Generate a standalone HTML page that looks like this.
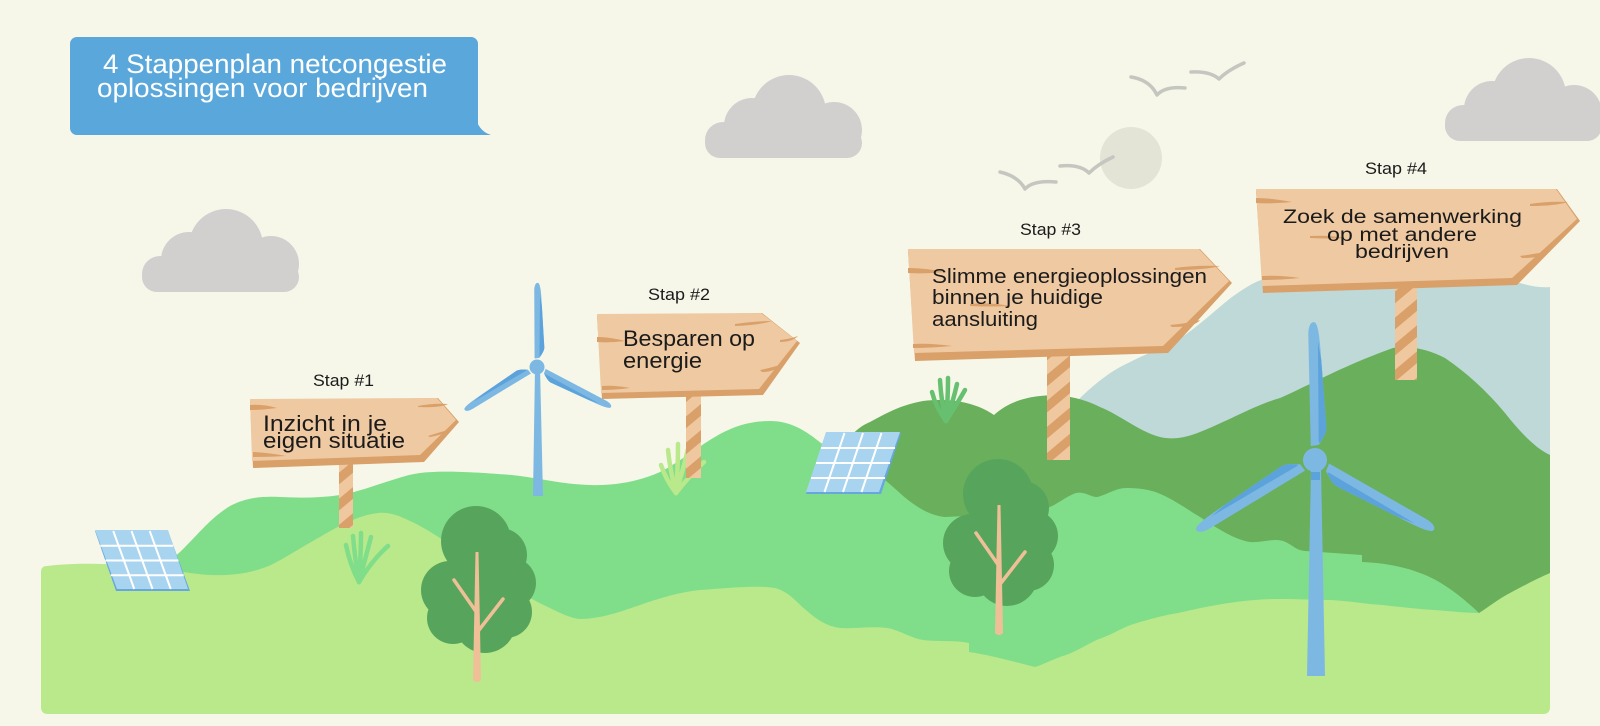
<!DOCTYPE html>
<html><head><meta charset="utf-8"><style>
html,body{margin:0;padding:0;background:#f6f7e9;}
svg{display:block;}
</style></head><body>
<svg width="1600" height="726" viewBox="0 0 1600 726" xmlns="http://www.w3.org/2000/svg">
<defs>
<pattern id="stripes" patternUnits="userSpaceOnUse" width="20" height="20" patternTransform="rotate(-40)">
<rect width="20" height="20" fill="#efc8a0"/>
<rect width="20" height="9" fill="#d9a069"/>
</pattern>
<g id="cloud">
<rect x="705" y="128" width="157" height="30" rx="15" fill="#d1d0cf"/>
<circle cx="723" cy="140" r="18" fill="#d1d0cf"/>
<circle cx="752" cy="126" r="28" fill="#d1d0cf"/>
<circle cx="789" cy="112" r="37" fill="#d1d0cf"/>
<circle cx="834" cy="130" r="28" fill="#d1d0cf"/>
</g>
<g id="blade">
<path d="M-4,-14 L-4.5,-125 C-4.5,-135 -1,-140 3,-137 C6,-132 7,-120 8,-100 L12,-32 C12,-28 9,-22 4,-15 Z" fill="#7db8e3"/>
<path d="M4,-18 L5,-118 L8,-100 L12,-32 C12,-28 9,-22 5,-17 Z" fill="#5ca3dc"/>
</g>
<g id="tree">
<circle cx="476" cy="541" r="35"/>
<circle cx="450" cy="590" r="29"/>
<circle cx="453" cy="618" r="26"/>
<circle cx="485" cy="622" r="31"/>
<circle cx="510" cy="583" r="26"/>
<circle cx="506" cy="612" r="26"/>
<circle cx="500" cy="555" r="27"/>
<circle cx="478" cy="590" r="30"/>
</g>
<g id="trunk">
<path d="M475.5,552 L478.5,552 L481,680 Q477,684 473,680 Z" fill="#efc097"/>
<path d="M454,580 L477,613" stroke="#efc097" stroke-width="3.5" stroke-linecap="round"/>
<path d="M503,599 L479,630" stroke="#efc097" stroke-width="3.5" stroke-linecap="round"/>
</g>
</defs>

<!-- background -->
<rect width="1600" height="726" fill="#f6f7e9"/>

<!-- title box -->
<rect x="70" y="37" width="408" height="98" rx="7" fill="#5aa7db"/>
<path d="M462,135 L491,135 Q481,132 477,122 Z" fill="#5aa7db"/>
<text x="103" y="73" font-family="Liberation Sans, sans-serif" font-size="27" fill="#ffffff" textLength="344" lengthAdjust="spacingAndGlyphs">4 Stappenplan netcongestie</text>
<text x="97" y="97" font-family="Liberation Sans, sans-serif" font-size="27" fill="#ffffff" textLength="331" lengthAdjust="spacingAndGlyphs">oplossingen voor bedrijven</text>

<!-- clouds -->
<use href="#cloud" transform="translate(-563,134)"/>
<use href="#cloud"/>
<use href="#cloud" transform="translate(740,-17)"/>

<!-- sun -->
<circle cx="1131" cy="158" r="31" fill="#e3e4d6"/>

<!-- birds -->
<g fill="none" stroke="#c6c6c1" stroke-width="3.5" stroke-linecap="round" stroke-linejoin="round">
<path d="M1131,77 Q1150,80 1157,95 Q1165,86 1185,88"/>
<path d="M1191,72 Q1210,71 1219,79 Q1228,70 1244,63"/>
<path d="M1000,172 Q1018,176 1025,189 Q1033,180 1056,182"/>
<path d="M1060,166 Q1080,164 1089,173 Q1098,164 1113,157"/>
</g>

<!-- blue mountain -->
<path d="M1076,402 C1090,388 1105,375 1122,366 C1140,357 1155,350 1170,345 C1195,330 1215,310 1232,297 C1245,288 1255,281 1265,279 L1520,283 C1530,286 1540,288 1550,287 L1550,470 L1076,470 Z" fill="#bed9d8"/>

<!-- dark green hill -->
<path d="M835,458 C845,442 855,428 870,422 C885,414 900,405 923,401 C950,398 975,402 994,415 C1005,405 1020,398 1040,396 C1060,394 1080,397 1100,407 C1120,415 1140,432 1160,437 C1172,440 1185,438 1200,432 C1230,420 1255,405 1280,398 C1310,385 1340,367 1393,348 C1410,345 1430,350 1445,358 C1470,375 1490,395 1505,413 C1520,432 1535,448 1550,455 L1550,650 L835,650 Z" fill="#6aaf5c"/>

<!-- mid green hill -->
<path d="M150,660 L150,590 C160,575 170,560 180,552 C195,538 210,518 230,506 C245,498 260,496 280,497 C300,498 320,498 340,495 C360,492 380,483 409,475 C430,470 460,471 512,475 C540,478 560,484 590,485 C615,486 640,481 660,472 C680,462 700,445 720,434 C735,426 750,421 770,421 C790,421 805,430 821,443 C840,455 860,465 875,473 C890,482 900,495 915,505 C925,512 935,516 945,517 L990,515 L1040,510 C1056,507 1062,498 1076,493 C1085,491 1090,497 1097,497 C1107,495 1115,488 1127,488 C1140,488 1150,490 1158,493 C1175,500 1188,510 1200,517 C1215,527 1235,540 1250,542 C1262,543 1272,538 1283,541 C1292,544 1295,550 1305,551 L1362,555 L1362,562 C1385,563 1405,567 1420,573 C1440,580 1460,595 1479,613 L1479,670 L150,670 Z" fill="#80de8a"/>

<!-- windmill 1 -->
<g>
<path d="M535,367 L540,367 L543,496 L533,496 Z" fill="#7db8e3"/>
<g transform="translate(537,367) scale(0.61)">
<use href="#blade"/>
<use href="#blade" transform="rotate(118)"/>
<use href="#blade" transform="rotate(-121)"/>
</g>
<circle cx="537" cy="367" r="7.5" fill="#7db8e3"/>
</g>

<!-- light green foreground -->
<path d="M41,572 Q41,566 47,566 C70,563 100,563 140,566 C170,569 190,574 210,575 C235,576 255,572 271,565 C285,558 300,548 320,537 C340,525 360,515 378,513 C388,512 398,515 410,521 C430,530 450,545 480,565 C505,582 525,597 550,608 C560,613 570,618 580,619 C600,619 620,612 640,605 C660,598 680,592 700,590 C730,588 755,585 775,588 C790,592 798,604 806,610 C815,618 825,626 840,628 C855,629 870,626 887,628 C900,630 910,638 923,640 C940,642 955,640 969,643 L969,652 C990,655 1015,662 1035,667 C1045,664 1055,658 1066,655 C1080,650 1090,642 1102,638 C1115,633 1125,626 1137,623 C1150,619 1165,615 1178,613 C1200,608 1215,605 1229,603 C1250,600 1265,599 1280,599 C1300,599 1315,600 1331,600 C1350,601 1365,604 1382,605 C1400,607 1418,609 1433,610 C1450,611 1465,613 1479,613 C1490,606 1500,598 1510,593 C1525,585 1538,578 1550,573 L1550,707 Q1550,714 1543,714 L48,714 Q41,714 41,707 Z" fill="#b9e98b"/>

<!-- grass tufts -->
<g fill="none" stroke="#80de8a" stroke-width="4.5" stroke-linecap="round">
<path d="M359,582 Q350,565 346,545"/><path d="M359,582 Q355,560 353,536"/><path d="M359,582 Q361,555 361,533"/><path d="M359,582 Q365,560 371,537"/><path d="M359,582 Q372,560 388,546"/>
</g>
<g fill="none" stroke="#b9e98b" stroke-width="4.5" stroke-linecap="round">
<path d="M676,493 Q666,480 661,465"/><path d="M676,493 Q670,470 668,450"/><path d="M676,493 Q678,468 678,444"/><path d="M676,493 Q683,470 688,449"/><path d="M676,493 Q690,475 704,462"/>
</g>
<g fill="none" stroke="#66c070" stroke-width="4.5" stroke-linecap="round">
<path d="M946,421 Q936,408 932,392"/><path d="M946,421 Q941,400 940,380"/><path d="M946,421 Q948,400 948,378"/><path d="M946,421 Q953,402 957,384"/><path d="M946,421 Q957,404 965,390"/>
</g>

<!-- trees -->
<g fill="#57a55c"><use href="#tree"/></g>
<use href="#trunk"/>
<g fill="#57a55c" transform="translate(522,-47)"><use href="#tree"/></g>
<use href="#trunk" transform="translate(522,-47)"/>

<!-- solar panel 1 -->
<polygon points="95,531 168,531 190,591 116,591" fill="#66a8de"/>
<polygon points="95,530 168,530 188,589 117,589" fill="#a8d4ef"/>
<g stroke="#ffffff" stroke-width="2">
<line x1="113.25" y1="531" x2="134.25" y2="589"/><line x1="131.5" y1="531" x2="152.5" y2="589"/><line x1="149.75" y1="531" x2="170.75" y2="589"/>
<line x1="100.25" y1="545.75" x2="173.25" y2="545.75"/><line x1="105.5" y1="560.5" x2="178.5" y2="560.5"/><line x1="110.75" y1="575.25" x2="183.75" y2="575.25"/>
</g>

<!-- solar panel 2 -->
<polygon points="826,433 901,433 881,494 806,494" fill="#66a8de"/>
<polygon points="826,432 900,432 879,492 806,492" fill="#a8d4ef"/>
<g stroke="#ffffff" stroke-width="2">
<line x1="844.5" y1="433" x2="824.5" y2="492"/><line x1="863" y1="433" x2="843" y2="492"/><line x1="881.5" y1="433" x2="861.5" y2="492"/>
<line x1="821" y1="448" x2="895" y2="448"/><line x1="816" y1="463" x2="890" y2="463"/><line x1="811" y1="478" x2="885" y2="478"/>
</g>

<!-- windmill 2 -->
<g>
<path d="M1311,468 L1321,468 L1325,676 L1307,676 Z" fill="#7db8e3"/>
<rect x="1311" y="472" width="9" height="8" fill="#5ca3dc"/>
<g transform="translate(1315,460)">
<use href="#blade" transform="rotate(-1)"/>
<use href="#blade" transform="rotate(120)"/>
<use href="#blade" transform="rotate(-121)"/>
</g>
<circle cx="1315" cy="460" r="12" fill="#7db8e3"/>
</g>

<!-- posts -->
<rect x="339" y="455" width="14" height="73" fill="url(#stripes)"/>
<rect x="686" y="390" width="15" height="88" fill="url(#stripes)"/>
<rect x="1047" y="350" width="23" height="110" fill="url(#stripes)"/>
<rect x="1395" y="283" width="22" height="97" fill="url(#stripes)"/>

<!-- sign boards -->
<g>
<polygon points="250,401 438,398 459,422 424,462 253,468" fill="#d9a069"/>
<polygon points="250,399 437,398 456,420 420,455 252,461" fill="#efc9a1"/>
<path d="M250,405 Q263,404 277,408 Q263,410 250,410 Z M253,452 Q270,453 286,456 Q270,457 253,457 Z M418,406 Q433,403 448,404 Q440,408 418,407 Z M428,436 Q440,432 452,429 Q446,434 430,437 Z" fill="#d9a069"/>
</g>
<g>
<polygon points="597,316 762,313 800,343 763,395 602,399" fill="#d9a069"/>
<polygon points="597,314 761,313 797,341 759,389 601,393" fill="#efc9a1"/>
<path d="M597,337 Q610,337 625,341 Q610,343 597,342 Z M602,386 Q615,385 630,388 Q615,390 602,390 Z M735,324 Q755,321 772,321 Q760,325 735,326 Z M780,340 Q790,339 798,336 Q792,342 780,342 Z M760,370 Q770,368 780,365 Q775,372 762,372 Z" fill="#d9a069"/>
</g>
<g>
<polygon points="908,251 1200,249 1232,283 1168,353 915,361" fill="#d9a069"/>
<polygon points="908,249 1199,249 1229,281 1163,346 914,353" fill="#efc9a1"/>
<path d="M908,268 Q925,268 945,272 Q925,274 908,273 Z M913,344 Q930,343 952,346 Q930,348 913,348 Z M1175,268 Q1195,265 1220,266 Q1205,270 1175,270 Z M1170,325 Q1190,323 1200,320 Q1195,327 1172,327 Z M970,304 Q990,302 1010,306 Q990,307 970,306 Z" fill="#d9a069"/>
</g>
<g>
<polygon points="1256,191 1557,189 1580,221 1517,285 1263,293" fill="#d9a069"/>
<polygon points="1256,189 1556,189 1577,219 1512,278 1262,286" fill="#efc9a1"/>
<path d="M1256,198 Q1272,198 1292,202 Q1272,204 1256,203 Z M1262,276 Q1280,275 1300,278 Q1280,280 1262,280 Z M1530,204 Q1548,201 1568,202 Q1555,206 1530,206 Z M1520,256 Q1535,254 1550,251 Q1545,258 1522,258 Z M1310,236 Q1330,235 1345,238 Q1330,239 1310,238 Z" fill="#d9a069"/>
</g>

<!-- step labels -->
<g font-family="Liberation Sans, sans-serif" font-size="17" fill="#1b1b1b">
<text x="313" y="386" textLength="61" lengthAdjust="spacingAndGlyphs">Stap #1</text>
<text x="648" y="300" textLength="62" lengthAdjust="spacingAndGlyphs">Stap #2</text>
<text x="1020" y="235" textLength="61" lengthAdjust="spacingAndGlyphs">Stap #3</text>
<text x="1365" y="174" textLength="62" lengthAdjust="spacingAndGlyphs">Stap #4</text>
</g>

<!-- sign texts -->
<g font-family="Liberation Sans, sans-serif" fill="#1b1b1b">
<text x="263" y="431" font-size="22" textLength="124" lengthAdjust="spacingAndGlyphs">Inzicht in je</text>
<text x="263" y="448" font-size="22" textLength="142" lengthAdjust="spacingAndGlyphs">eigen situatie</text>
<text x="623" y="346" font-size="22" textLength="132" lengthAdjust="spacingAndGlyphs">Besparen op</text>
<text x="623" y="368" font-size="22" textLength="79" lengthAdjust="spacingAndGlyphs">energie</text>
<text x="932" y="283" font-size="20" textLength="275" lengthAdjust="spacingAndGlyphs">Slimme energieoplossingen</text>
<text x="932" y="304" font-size="20" textLength="171" lengthAdjust="spacingAndGlyphs">binnen je huidige</text>
<text x="932" y="326" font-size="20" textLength="106" lengthAdjust="spacingAndGlyphs">aansluiting</text>
<text x="1283" y="223" font-size="19" textLength="239" lengthAdjust="spacingAndGlyphs">Zoek de samenwerking</text>
<text x="1327" y="241" font-size="19" textLength="150" lengthAdjust="spacingAndGlyphs">op met andere</text>
<text x="1355" y="258" font-size="19" textLength="94" lengthAdjust="spacingAndGlyphs">bedrijven</text>
</g>
</svg>
</body></html>
